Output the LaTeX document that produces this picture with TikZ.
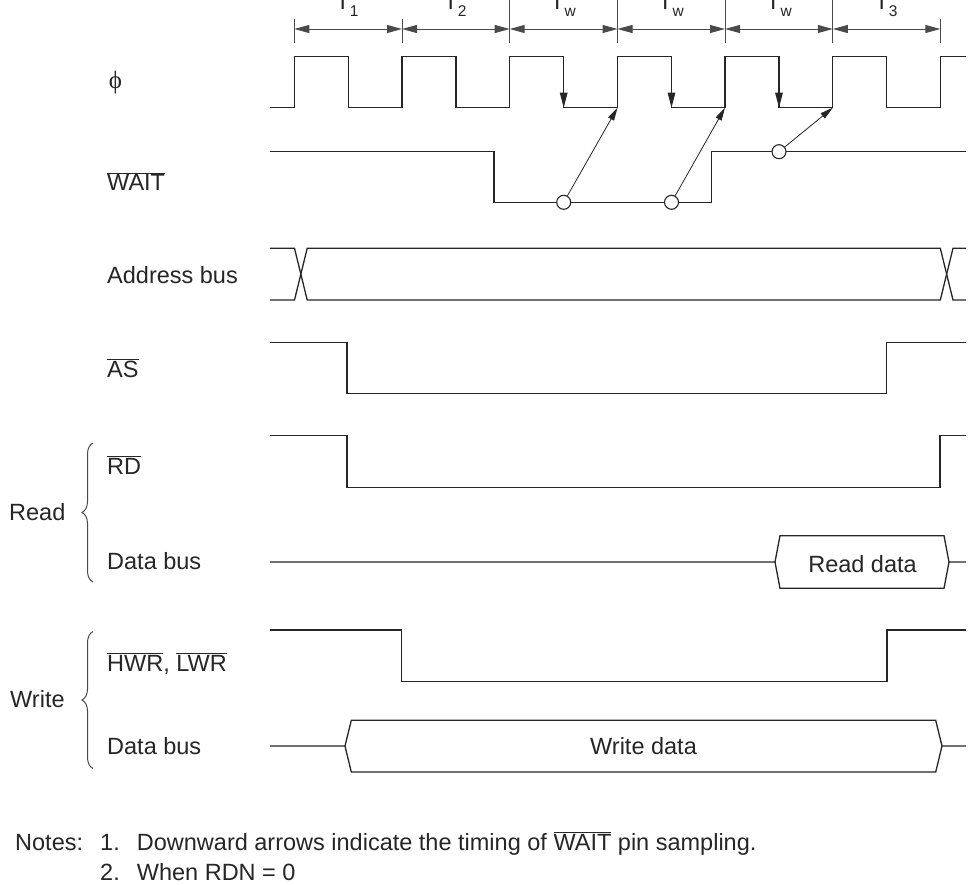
\documentclass[tikz,border=0pt]{standalone}
\usepackage{fontspec}
\setmainfont{Liberation Sans}
\newfontfamily\phifont{Liberation Serif}
\usetikzlibrary{arrows.meta,decorations.pathreplacing}
\newcommand\lblfont{\fontsize{23.5}{28}\selectfont}
\newcommand\subfont{\fontsize{15.5}{18}\selectfont}
\newcommand\ovl[1]{$\overline{\mbox{#1}}$}
\definecolor{ink}{HTML}{262626}
\definecolor{dimc}{HTML}{4A4A4A}
\begin{document}
\begin{tikzpicture}[x=1pt,y=-1pt,
  wave/.style={draw=ink,line width=1.3pt,line join=miter},
  dimline/.style={draw=dimc,line width=1pt},
  dimarrow/.style={draw=dimc,line width=1pt,{Triangle[length=15pt,width=8pt]}-{Triangle[length=15pt,width=8pt]}},
  downarrow/.style={draw=ink,line width=1.3pt,-{Triangle[length=15pt,width=7.5pt]}},
  samplearrow/.style={draw=ink,line width=0.8pt,-{Triangle[length=13pt,width=6.5pt]}},
  sampcirc/.style={circle,draw=ink,fill=white,line width=1.1pt,minimum size=14pt,inner sep=0pt},
  lbl/.style={font=\lblfont,text=ink,inner sep=0pt,anchor=base west},
  tlbl/.style={font=\lblfont,text=ink,inner sep=0pt,anchor=base},
  bracest/.style={draw=dimc,line width=1pt,decorate,decoration={brace,amplitude=11pt}}]
\useasboundingbox[fill=white] (0,0) rectangle (974,884);

% ---- T-state dimension lines
\foreach \x/\t in {294.3/19,402/19,509.7/-5,617.5/-5,725/-5,832.8/-5,940.3/19}
  \draw[dimline] (\x,\t) -- (\x,43);
\foreach \a/\b in {294.3/402,402/509.7,509.7/617.5,617.5/725,725/832.8,832.8/940.3}
  \draw[dimarrow] (\a,29) -- (\b,29);
\node[tlbl] (t1) at (347,9) {T\raisebox{-7pt}{\subfont 1}};
\node[tlbl] (t2) at (455,9) {T\raisebox{-7pt}{\subfont 2}};
\node[tlbl] (tw1) at (563,9) {T\raisebox{-7pt}{\subfont w}};
\node[tlbl] (tw2) at (671,9) {T\raisebox{-7pt}{\subfont w}};
\node[tlbl] (tw3) at (779,9) {T\raisebox{-7pt}{\subfont w}};
\node[tlbl] (t3) at (886,9) {T\raisebox{-7pt}{\subfont 3}};

% ---- signal labels
\node[font=\fontsize{25}{30}\selectfont\phifont,text=ink,inner sep=0pt] (lphi) at (115.5,82) {ϕ};
\node[lbl] (lwait) at (107,190.7) {\ovl{WAIT}};
\node[lbl] (laddr) at (107,283.3) {Address bus};
\node[lbl] (las) at (107,377.3) {\ovl{AS}};
\node[lbl] (lrd) at (107,474) {\ovl{RD}};
\node[lbl] (ldr) at (107,569) {Data bus};
\node[lbl] (lwr) at (107,671) {\ovl{HWR}, \ovl{LWR}};
\node[lbl] (ldw) at (107,754) {Data bus};
\node[lbl] (lread) at (9,520) {Read};
\node[lbl] (lwrite) at (10,707.3) {Write};
\draw[bracest] (93,582) -- (93,443);
\draw[bracest] (93,768.5) -- (93,631.5);

% ---- phi clock
\draw[wave] (270,107.7) -- (294.3,107.7) -- (294.3,56.7) -- (348.3,56.7) -- (348.3,107.7)
  -- (402,107.7) -- (402,56.7) -- (456,56.7) -- (456,107.7)
  -- (509.7,107.7) -- (509.7,56.7) -- (563.7,56.7) -- (563.7,107.7)
  -- (617.5,107.7) -- (617.5,56.7) -- (671.5,56.7) -- (671.5,107.7)
  -- (725,107.7) -- (725,56.7) -- (779,56.7) -- (779,107.7)
  -- (832.8,107.7) -- (832.8,56.7) -- (886.8,56.7) -- (886.8,107.7)
  -- (940.3,107.7) -- (940.3,56.7) -- (966,56.7);
\coordinate (f1t) at (563.7,56.7); \coordinate (f1b) at (563.7,107.7);
\coordinate (f2t) at (671.5,56.7); \coordinate (f2b) at (671.5,107.7);
\coordinate (f3t) at (779,56.7);   \coordinate (f3b) at (779,107.7);
\draw[downarrow] (f1t) -- (f1b);
\draw[downarrow] (f2t) -- (f2b);
\draw[downarrow] (f3t) -- (f3b);
\coordinate (r1) at (617.5,107.7);
\coordinate (r2) at (725,107.7);
\coordinate (r3) at (832.8,107.7);

% ---- WAIT
\draw[wave] (270,151.7) -- (494,151.7) -- (494,202.3) -- (711.3,202.3) -- (711.3,151.7) -- (966,151.7);
\node[sampcirc] (c1) at (563.7,202.3) {};
\node[sampcirc] (c2) at (671.5,202.3) {};
\node[sampcirc] (c3) at (779,151.7) {};
\draw[samplearrow] (c1) -- (r1);
\draw[samplearrow] (c2) -- (r2);
\draw[samplearrow] (c3) -- (r3);

% ---- Address bus
\draw[wave] (270,248.3) -- (294.5,248.3) -- (307.2,300) -- (940.3,300) -- (953,248.3) -- (966,248.3);
\draw[wave] (270,300) -- (294.5,300) -- (307.2,248.3) -- (940.3,248.3) -- (953,300) -- (966,300);

% ---- AS
\draw[wave] (270,342.3) -- (347,342.3) -- (347,393.7) -- (886.8,393.7) -- (886.8,342.3) -- (966,342.3);

% ---- RD
\draw[wave] (270,435.7) -- (347,435.7) -- (347,487.7) -- (940,487.7) -- (940,435.7) -- (966,435.7);

% ---- Read data bus
\draw[wave] (270,562) -- (775,562) -- (780,535.7) -- (944,535.7) -- (949,562) -- (966,562);
\draw[wave] (775,562) -- (780,588.3) -- (944,588.3) -- (949,562);
\node[tlbl] (rdata) at (862.5,572.3) {Read data};

% ---- HWR, LWR
\draw[wave] (270,630) -- (401.5,630) -- (401.5,681.7) -- (887,681.7) -- (887,630) -- (966,630);

% ---- Write data bus
\draw[wave] (270,746) -- (345,746) -- (351.3,720.3) -- (935.7,720.3) -- (942,746) -- (966,746);
\draw[wave] (345,746) -- (351.3,772) -- (935.7,772) -- (942,746);
\node[tlbl] (wdata) at (643.5,754) {Write data};

% ---- notes
\node[lbl] (notes) at (15,850) {Notes:};
\node[lbl] (n1) at (100,850) {1.};
\node[lbl] (n1t) at (136.7,850) {Downward arrows indicate the timing of \ovl{WAIT} pin sampling.};
\node[lbl] (n2) at (100,880) {2.};
\node[lbl] (n2t) at (136.7,880) {When RDN = 0};
\end{tikzpicture}
\end{document}
